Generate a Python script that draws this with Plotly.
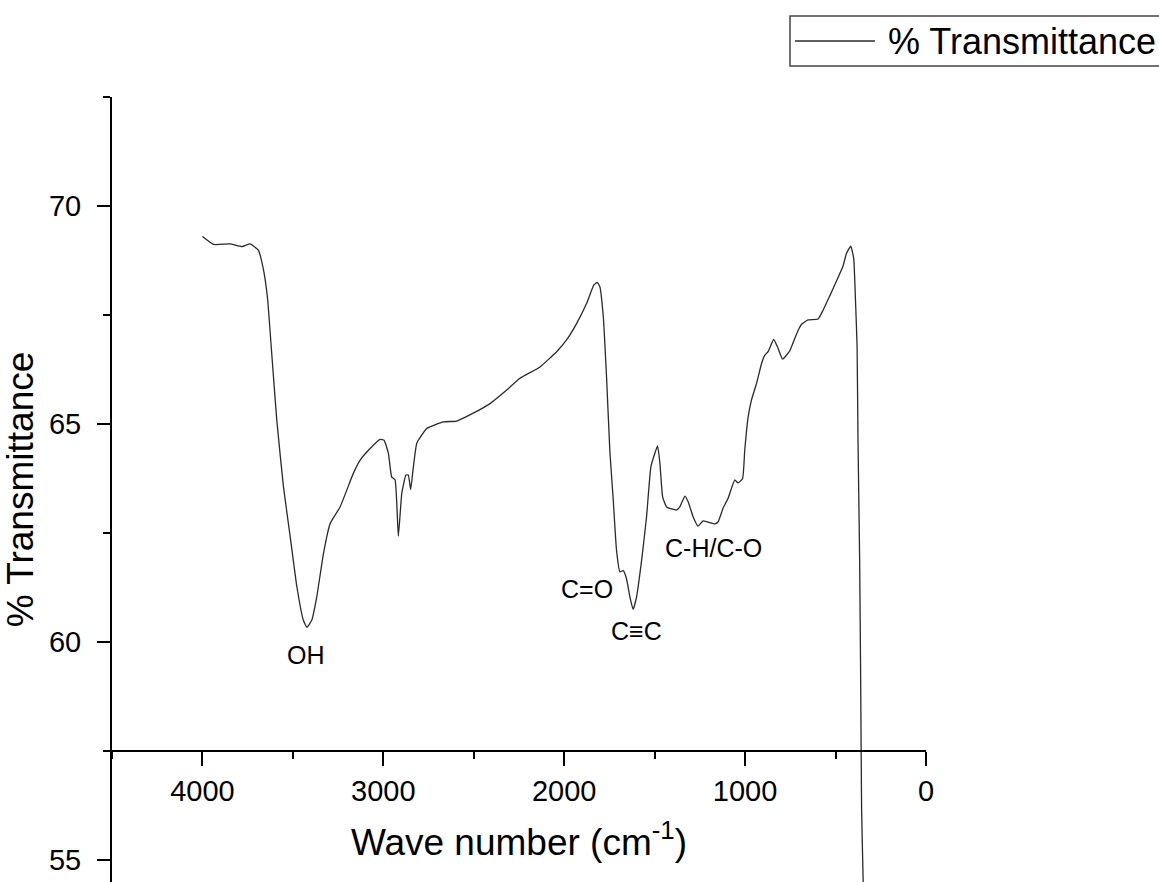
import plotly.graph_objects as go

# ---- data ----
wavenumber = [4000, 3939, 3847, 3782, 3736, 3691, 3666, 3641, 3617, 3589, 3552, 3515, 3478, 3442,
              3423, 3396, 3368, 3331, 3294, 3239, 3166, 3129, 3073, 3018, 2996, 2972, 2954, 2935,
              2917, 2898, 2875, 2862, 2849, 2838, 2815, 2760, 2668, 2594, 2503, 2410, 2318, 2245,
              2134, 2042, 1987, 1931, 1876, 1836, 1818, 1803, 1784, 1766, 1748, 1729, 1711, 1692,
              1674, 1656, 1637, 1619, 1600, 1572, 1545, 1521, 1499, 1484, 1471, 1456, 1434, 1379,
              1361, 1333, 1315, 1287, 1260, 1232, 1167, 1149, 1122, 1094, 1057, 1039, 1014, 1002,
              983, 965, 937, 909, 891, 873, 842, 818, 793, 753, 725, 702, 688, 652, 597, 569,
              532, 495, 459, 440, 416, 400, 389, 381, 376, 367, 361, 356, 348, 343]
transmittance = [69.30, 69.12, 69.13, 69.07, 69.13, 68.99, 68.61, 67.92, 66.62, 65.09, 63.56, 62.42,
                 61.27, 60.50, 60.34, 60.50, 61.04, 62.03, 62.72, 63.10, 63.87, 64.17, 64.44, 64.65,
                 64.63, 64.33, 63.79, 63.72, 62.43, 63.41, 63.83, 63.83, 63.50, 63.87, 64.56, 64.90,
                 65.05, 65.07, 65.25, 65.47, 65.78, 66.05, 66.31, 66.66, 66.93, 67.31, 67.77, 68.19,
                 68.25, 68.15, 67.46, 66.08, 64.40, 63.26, 62.11, 61.61, 61.64, 61.46, 61.04, 60.75,
                 61.04, 61.88, 62.87, 64.02, 64.33, 64.50, 64.10, 63.33, 63.10, 63.03, 63.10, 63.35,
                 63.22, 62.87, 62.66, 62.78, 62.71, 62.76, 63.07, 63.30, 63.72, 63.65, 63.75, 64.40,
                 65.17, 65.55, 65.93, 66.39, 66.58, 66.66, 66.94, 66.74, 66.49, 66.68, 66.97, 67.19,
                 67.29, 67.39, 67.41, 67.61, 67.94, 68.28, 68.62, 68.91, 69.08, 68.81, 67.75, 66.78,
                 64.66, 61.96, 59.06, 56.17, 54.63, 53.50]

peak_labels = ["OH", "C=O", "C\u2261C", "C-H/C-O"]
peak_x = [3427, 1876, 1600, 1173]
peak_y = [59.70, 61.23, 60.25, 62.15]

series_name = "% Transmittance"
x_title = "Wave number (cm<sup>-1</sup>)"
y_title = "% Transmittance"

FONT = "Liberation Sans, Arial, sans-serif"

# ---- figure ----
W, H = 1159, 882
ML, MR, MT, MB = 112, 233, 97, 0
pw, ph = W - ML - MR, H - MT - MB

def px2paper_x(px):
    return (px - ML) / pw

def px2paper_y(py):
    return (H - MB - py) / ph

fig = go.Figure()
fig.add_trace(go.Scatter(x=wavenumber, y=transmittance, mode="lines",
                         line=dict(color="#2a2a2a", width=1.3, shape="spline", smoothing=0.4),
                         name=series_name, showlegend=False))

for t, xv, yv in zip(peak_labels, peak_x, peak_y):
    fig.add_annotation(x=xv, y=yv, text=t, showarrow=False,
                       font=dict(family=FONT, size=25, color="black"),
                       xanchor="center", yanchor="middle")

y_range = [54.5, 72.5]
x_axis_at = 57.5

fig.update_layout(
    width=W, height=H,
    margin=dict(l=ML, r=MR, t=MT, b=MB, pad=0),
    paper_bgcolor="white", plot_bgcolor="white",
    font=dict(family=FONT, color="black"),
    xaxis=dict(
        range=[4500, 0], anchor="free",
        position=(x_axis_at - y_range[0]) / (y_range[1] - y_range[0]),
        showline=True, linecolor="black", linewidth=2,
        showgrid=False, zeroline=False,
        ticks="outside", ticklen=14, tickwidth=2, tickcolor="black",
        tick0=0, dtick=1000,
        minor=dict(ticks="outside", ticklen=7, tickwidth=2, tickcolor="black", dtick=500, showgrid=False),
        tickfont=dict(family=FONT, size=29, color="black"),
        title=dict(text=x_title, font=dict(family=FONT, size=37, color="black"), standoff=22),
    ),
    yaxis=dict(
        range=y_range, showline=True, linecolor="black", linewidth=2,
        showgrid=False, zeroline=False,
        ticks="outside", ticklen=13, tickwidth=2, tickcolor="black",
        tick0=0, dtick=5,
        minor=dict(ticks="outside", ticklen=7, tickwidth=2, tickcolor="black", dtick=2.5, showgrid=False),
        tickfont=dict(family=FONT, size=29, color="black"),
        ticklabelstandoff=10,
        title=dict(text=y_title, font=dict(family=FONT, size=37, color="black"), standoff=4),
    ),
)

# legend box drawn in the style of the reference
fig.add_shape(type="rect", xref="paper", yref="paper",
              x0=px2paper_x(790), x1=px2paper_x(1175), y0=px2paper_y(66), y1=px2paper_y(16),
              line=dict(color="#444", width=1.5), fillcolor="white", layer="above")
fig.add_shape(type="line", xref="paper", yref="paper",
              x0=px2paper_x(795), x1=px2paper_x(875), y0=px2paper_y(41), y1=px2paper_y(41),
              line=dict(color="#2a2a2a", width=1.3))
fig.add_annotation(xref="paper", yref="paper", x=px2paper_x(886), y=px2paper_y(41),
                   text=series_name, showarrow=False, xanchor="left", yanchor="middle",
                   font=dict(family=FONT, size=36, color="black"))

fig.write_html("out.html")
